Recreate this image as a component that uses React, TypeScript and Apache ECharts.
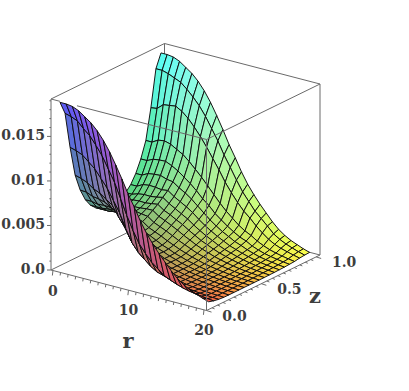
import React, { useEffect, useRef } from "react";
import * as echarts from "echarts";

const rValues = [0, 0.82, 1.64, 2.46, 3.28, 4.1, 4.92, 5.74, 6.56, 7.38, 8.2, 9.02, 9.84, 10.66, 11.48, 12.3, 13.12, 13.94, 14.76, 15.58, 16.4, 17.22, 18.04, 18.86, 19.68];
const zValues = [0.064,0.110,0.156,0.202,0.248,0.295,0.341,0.387,0.433,0.479,0.525,0.571,0.617,0.663,0.709,0.755,0.801,0.847,0.893,0.939,0.985];
// surface height, in units of 1e-4, one row per r, one column per z
const heights = [
  [185,170,129,95,75.5,61.8,52.9,47.3,43.8,41.6,41.6,41.6,44,47.5,53.8,63.5,77,95,129,170,185],
  [185,168,127,93,75,61.8,52.9,47.3,43.8,41.6,41.6,41.6,44,47.5,53.8,63.5,77,95,130,170,185],
  [184,165,124,90,72,60.4,52.9,47.3,43.8,41,41.9,42.7,45.7,49.8,57.4,67,80.3,99,136,168,184],
  [181,158,118,85,71,61,54,48.3,44.6,41.6,42.2,42.7,46.3,50.8,58.4,68,81.3,100,137,165,181],
  [176,152,112,82,69,60.6,55.2,50.1,46.2,42.7,42.2,43,46,50.5,58,68.5,81.6,98,138,162,176],
  [171,143,103,77,65.3,57,51,45.3,41.4,39,41,44,47,51.5,57,66,78.4,94,134,156,171],
  [164,133,94,72,60.3,51.5,45,39.3,36.7,37,40,44,48,53,58,65,74.4,90,128,149,164],
  [155,120,82,61,49.3,41,35.6,31.8,30.6,32,35,39,43,48,53,60,69.2,84,120,141,155],
  [144,107,70,51,40,33,29.5,28,27.6,29,32,36,40,44,49,56,63.7,77,111,131,144],
  [131,90,54,38,31,27.4,25.5,24,24,26,29,32.5,36,40,45,51,57.5,70,101,119,131],
  [117,73,40,29,25.1,22.4,20.8,20,20.5,22.5,25.5,29,32.5,36,40.5,45,50.3,62,90,107,117],
  [102,58,31,22,19.7,18.5,17.9,17.5,18,19.5,22,25,28,31,34.5,39,44.6,54,79,93,102],
  [89,45,25,17,15.4,14.8,14.6,14.6,15,16.5,19,21.5,24,26.5,29.5,33,37.4,46,67,81,89],
  [75,36,19,13.5,12.6,12.4,12.4,12.4,12.8,14,16,18,20,22.5,25,28,32,39,57,68.5,75],
  [63,28,14.6,11,10.2,10,10,10,10.5,11.5,13,15,17,19,21,23.5,26.8,33,48,57,63],
  [53,22.5,12.4,9,8.5,8.4,8.4,8.4,8.8,9.6,11,12.5,14,15.5,17.5,19.8,22.3,27,40,48,53],
  [44,16.8,10,7.3,6.8,6.7,6.7,6.7,7,7.6,8.7,10,11.3,12.6,14,16,18.2,22.5,34,39,44],
  [36,13.5,7.9,6,5.7,5.6,5.6,5.6,5.8,6.3,7.2,8.2,9.3,10.4,11.6,13.4,15.6,19,27,32.6,36],
  [28,10.7,6.2,4.8,4.6,4.5,4.5,4.5,4.7,5,5.7,6.5,7.3,8.2,9.2,10.4,11.8,14.6,21,26,28],
  [21.3,8.4,5,3.9,3.7,3.6,3.6,3.6,3.7,4,4.5,5,5.7,6.4,7.2,8.1,9.1,11.2,15.7,19,21.3],
  [16.3,6.7,3.9,3.1,2.9,2.8,2.8,2.8,2.8,3,3.4,3.9,4.4,4.9,5.4,6,6.9,8.5,11.8,14.6,16.3],
  [12.4,5.4,3.1,2.5,2.3,2.2,2.2,2.2,2.2,2.4,2.6,2.9,3.3,3.7,4.1,4.7,5.4,6.6,9.1,11.2,12.4],
  [9.5,4.3,2.6,1.9,1.8,1.7,1.7,1.7,1.7,1.8,2,2.2,2.5,2.8,3.1,3.6,4.1,5,7.1,8.6,9.5],
  [6.7,3.4,2,1.6,1.4,1.3,1.3,1.3,1.3,1.4,1.5,1.6,1.8,2,2.2,2.5,3,3.7,5.2,6.2,6.7],
  [4.5,2.8,1.7,1.2,1.1,1.1,1.1,1.1,1.1,1.1,1.15,1.2,1.3,1.4,1.6,1.8,2.2,2.6,3.6,4.2,4.5],
];
const rTicks = [0,1,2,3,4,5,6,7,8,9,10,11,12,13,14,15,16,17,18,19,20];
const rMajor = [0, 10, 20];
const zTicks = [0,0.05,0.1,0.15,0.2,0.25,0.3,0.35,0.4,0.45,0.5,0.55,0.6,0.65,0.7,0.75,0.8,0.85,0.9,0.95,1];
const zMajor = [0, 0.5, 1];
const vTicks = [0,0.001,0.002,0.003,0.004,0.005,0.006,0.007,0.008,0.009,0.01,0.011,0.012,0.013,0.014,0.015,0.016,0.017,0.018,0.019];
const vMajor = [0, 0.005, 0.01, 0.015];
const vLabels = ["0.0", "0.005", "0.01", "0.015"];
const rLabels = ["0", "10", "20"];
const zLabels = ["0.0", "0.5", "1.0"];

const R0 = -0.26, R1 = 20.33, Z0 = 0, Z1 = 1.035, V0 = 0, V1 = 0.0192;
const WIDTH = 409, HEIGHT = 391;

function project(r: number, z: number, v: number): [number, number] {
  const a = (r - R0) / (R1 - R0);
  const b = (z - Z0) / (Z1 - Z0);
  const c = (v - V0) / (V1 - V0);
  return [51 + a * 155.5 + b * 113.5, 270 + a * 40.5 - b * 55.5 - c * 171];
}

function colorOf(r: number, z: number, v: number): string {
  const a = Math.max(0, (r - R0) / (R1 - R0));
  const t = Math.max(0, (z - 0.064) / 0.921);
  const c = v / V1;
  const red = 76 + 178 * Math.pow(a, 0.72);
  const green = 72 + 183 * Math.pow(t, 0.62);
  const blue = 66 + 186 * Math.pow(c, 0.78);
  return `rgb(${red | 0},${green | 0},${blue | 0})`;
}

type Seg = [number, number, number, number, number, number];
const backEdges: Seg[] = [
  [R0, Z0, V0, R0, Z1, V0],
  [R0, Z1, V0, R1, Z1, V0],
  [R0, Z1, V0, R0, Z1, V1],
  [R0, Z0, V1, R0, Z1, V1],
  [R0, Z1, V1, R1, Z1, V1],
];
const frontEdges: Seg[] = [
  [R0, Z0, V0, R0, Z0, V1],
  [R0, Z0, V0, R1, Z0, V0],
  [R1, Z0, V0, R1, Z1, V0],
  [R1, Z1, V0, R1, Z1, V1],
  [R0, Z0, V1, 0.93, Z0, V1],
  [3.18, Z0, V1, R1, Z0, V1],
  [R1, Z0, V0, R1, Z0, V1],
  [R1, Z0, V1, R1, Z1, V1],
];

export default function App() {
  const ref = useRef<HTMLDivElement>(null);
  useEffect(() => {
    const chart = echarts.init(ref.current!, undefined, { renderer: "svg" });
    const cells: number[][] = [];
    for (let i = 0; i < rValues.length - 1; i++) {
      for (let k = zValues.length - 2; k >= 0; k--) {
        cells.push([i, k]);
      }
    }
    const edge = (api: any, s: Seg, stroke = "#6a6a6a", w = 1) => {
      const p = api.coord(project(s[0], s[1], s[2]));
      const q = api.coord(project(s[3], s[4], s[5]));
      return { type: "line", shape: { x1: p[0], y1: p[1], x2: q[0], y2: q[1] }, style: { stroke, lineWidth: w } };
    };
    const edge0 = (api: any, x1: number, y1: number, x2: number, y2: number) => {
      const p = api.coord([x1, y1]);
      const q = api.coord([x2, y2]);
      return { type: "line", shape: { x1: p[0], y1: p[1], x2: q[0], y2: q[1] }, style: { stroke: "#6a6a6a", lineWidth: 1 } };
    };
    const label = (api: any, text: string, x: number, y: number, align: string, size = 14) => {
      const p = api.coord([x, y]);
      return {
        type: "text",
        x: p[0],
        y: p[1],
        style: { text, align, verticalAlign: "middle", fill: "#3d3d3d", font: `bold ${size}px "DejaVu Serif"` },
      };
    };
    const frontItems = (api: any) => {
      const out: any[] = frontEdges.map((s) => edge(api, s));
      vTicks.forEach((v) => {
        const len = vMajor.includes(v) ? 4 : 1.6;
        const p = project(R0, Z0, v);
        out.push(edge0(api, p[0], p[1], p[0] - len, p[1]));
      });
      rTicks.forEach((r) => {
        const major = rMajor.includes(r);
        const p = project(r, Z0, V0);
        out.push(edge0(api, p[0], p[1], p[0] - (major ? 0.6 : 0.4), p[1] + (major ? 5 : 3)));
      });
      zTicks.forEach((z) => {
        const major = zMajor.includes(z);
        const p = project(R1, z, V0);
        out.push(edge0(api, p[0], p[1], p[0] + (major ? 5 : 2.6), p[1] + (major ? 1.6 : 1)));
      });
      vMajor.forEach((v, i) => {
        const p = project(R0, Z0, v);
        out.push(label(api, vLabels[i], p[0] - 6, p[1] - 1, "right"));
      });
      rMajor.forEach((r, i) => {
        const p = project(r, Z0, V0);
        out.push(label(api, rLabels[i], p[0], p[1] + 20, "center"));
      });
      zMajor.forEach((z, i) => {
        const p = project(R1, z, V0);
        out.push(label(api, zLabels[i], p[0] + 28, p[1] + 5, "center"));
      });
      out.push(label(api, "r", 128, 340, "center", 21));
      out.push(label(api, "z", 315, 295, "center", 21));
      return out;
    };
    chart.setOption({
      animation: false,
      backgroundColor: "#ffffff",
      grid: { left: 0, top: 0, right: 0, bottom: 0 },
      xAxis: { type: "value", min: 0, max: WIDTH, show: false },
      yAxis: { type: "value", min: 0, max: HEIGHT, inverse: true, show: false },
      series: [
        {
          type: "custom",
          silent: true,
          clip: false,
          data: [[0, 0]],
          renderItem: (_: any, api: any) => ({ type: "group", children: backEdges.map((s) => edge(api, s)) }),
        },
        {
          type: "custom",
          silent: true,
          clip: false,
          data: cells,
          renderItem: (params: any, api: any) => {
            const i = cells[params.dataIndex][0];
            const k = cells[params.dataIndex][1];
            const corners: [number, number][] = [
              [i, k],
              [i + 1, k],
              [i + 1, k + 1],
              [i, k + 1],
            ];
            let sr = 0, sz = 0, sv = 0;
            const points = corners.map(([a, b]) => {
              const r = rValues[a];
              const z = zValues[b];
              const v = heights[a][b] * 1e-4;
              sr += r; sz += z; sv += v;
              return api.coord(project(r, z, v));
            });
            return {
              type: "polygon",
              shape: { points },
              style: { fill: colorOf(sr / 4, sz / 4, sv / 4), stroke: "#0c0c0c", lineWidth: 0.95, lineJoin: "round" },
            };
          },
        },
        {
          type: "custom",
          silent: true,
          clip: false,
          data: [[0, 0]],
          renderItem: (_: any, api: any) => ({ type: "group", children: frontItems(api) }),
        },
      ],
    });
    return () => chart.dispose();
  }, []);
  return <div ref={ref} style={{ position: "absolute", left: 0, top: 0, width: WIDTH, height: HEIGHT }} />;
}
